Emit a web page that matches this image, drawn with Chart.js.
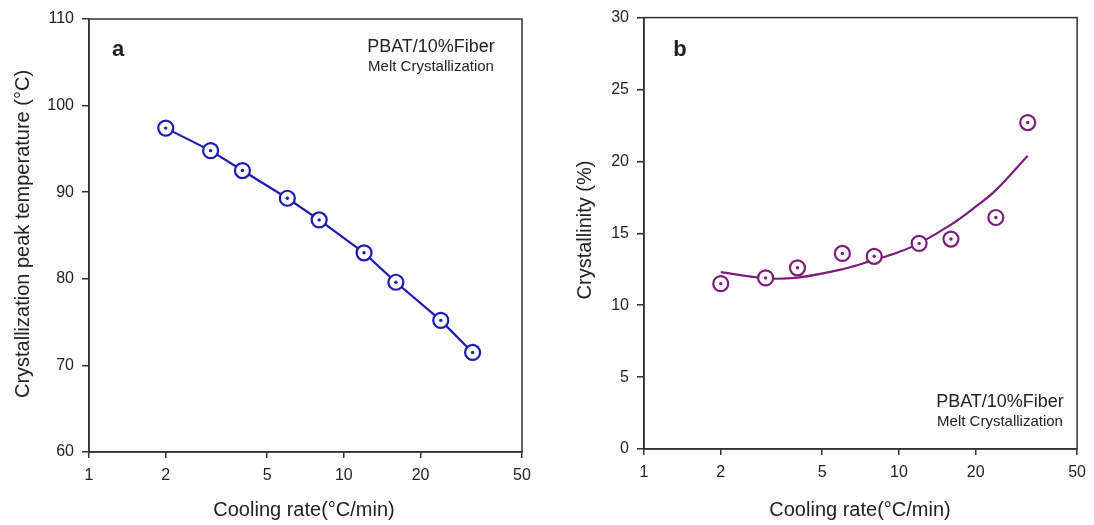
<!DOCTYPE html>
<html>
<head>
<meta charset="utf-8">
<script src="https://cdn.jsdelivr.net/npm/chart.js@4.4.1/dist/chart.umd.min.js"></script>
<style>
  html, body { margin: 0; padding: 0; background: #fff; }
  #wrap { position: relative; width: 1094px; height: 525px; }
  canvas { position: absolute; top: 0; }
</style>
</head>
<body>
<div id="wrap">
  <canvas id="chart-a" width="547" height="525" style="left:0"></canvas>
  <canvas id="chart-b" width="547" height="525" style="left:547px"></canvas>
</div>
<script>
// tick labels
var xTicks = [1, 2, 5, 10, 20, 50];

// panel a: peak temperature vs cooling rate
var rateA = [2, 3, 4, 6, 8, 12, 16, 24, 32];
var peakTemp = [97.4, 94.8, 92.5, 89.3, 86.8, 83.0, 79.6, 75.2, 71.5];

// panel b: crystallinity vs cooling rate, plus fitted curve
var rateB = [2, 3, 4, 6, 8, 12, 16, 24, 32];
var crystallinity = [11.5, 11.9, 12.6, 13.6, 13.4, 14.3, 14.6, 16.1, 22.7];
var fitRate = [2, 3, 4, 6, 8, 10, 12, 16, 20, 24, 32];
var fitCryst = [12.3, 11.87, 11.92, 12.5, 13.15, 13.7, 14.3, 15.6, 16.85, 18.0, 20.4];

var FONT = "'Liberation Sans', Arial, sans-serif";
var TXT = '#222';

function pts(xs, ys) {
    return xs.map(function (x, i) { return { x: x, y: ys[i] }; });
}

var decor = {
    id: 'decor',
    afterDraw: function (chart, args, opts) {
        var ctx = chart.ctx, a = chart.chartArea;
        ctx.save();
        ctx.strokeStyle = '#333';
        ctx.lineWidth = 1.5;
        ctx.strokeRect(a.left, a.top, a.right - a.left, a.bottom - a.top);
        ctx.fillStyle = TXT;
        ctx.textAlign = 'center';
        ctx.textBaseline = 'middle';
        opts.texts.forEach(function (t) {
            ctx.save();
            ctx.font = t.font;
            ctx.translate(t.x, t.y);
            if (t.rot) ctx.rotate(-Math.PI / 2);
            ctx.fillText(t.text, 0, 0);
            ctx.restore();
        });
        ctx.restore();
    }
};

function makeChart(id, datasets, yMin, yMax, yStep, box, texts) {
    var ctx = document.getElementById(id).getContext('2d');
    return new Chart(ctx, {
        type: 'scatter',
        data: { datasets: datasets },
        plugins: [decor],
        options: {
            responsive: false,
            animation: false,
            layout: { padding: { left: 0, top: box.top, right: box.right, bottom: 0 } },
            plugins: {
                legend: { display: false },
                tooltip: { enabled: false },
                decor: { texts: texts }
            },
            scales: {
                x: {
                    type: 'logarithmic',
                    min: 1,
                    max: 50,
                    afterBuildTicks: function (s) {
                        s.ticks = xTicks.map(function (v) { return { value: v }; });
                    },
                    afterFit: function (s) { s.height = box.bottom; },
                    grid: { display: true, drawOnChartArea: false, drawTicks: true, tickLength: 6, color: '#333', lineWidth: 1.5 },
                    border: { display: true, color: '#333', width: 1.5 },
                    ticks: {
                        autoSkip: false,
                        maxRotation: 0,
                        padding: 8,
                        color: TXT,
                        font: { family: FONT, size: 16 },
                        callback: function (v) { return String(v); }
                    }
                },
                y: {
                    min: yMin,
                    max: yMax,
                    afterFit: function (s) { s.width = box.left; },
                    grid: { display: true, drawOnChartArea: false, drawTicks: true, tickLength: 7, color: '#333', lineWidth: 1.5 },
                    border: { display: true, color: '#333', width: 1.5 },
                    ticks: {
                        stepSize: yStep,
                        padding: 8,
                        color: TXT,
                        font: { family: FONT, size: 16 }
                    }
                }
            }
        }
    });
}

var blue = 'rgb(28, 28, 176)';
var purple = 'rgb(122, 30, 122)';

// first dataset is drawn on top
makeChart('chart-a', [
    {
        data: pts(rateA, peakTemp),
        showLine: false,
        pointRadius: 1.7,
        pointBorderWidth: 0,
        pointBackgroundColor: blue
    },
    {
        data: pts(rateA, peakTemp),
        showLine: true,
        borderColor: blue,
        borderWidth: 2.2,
        pointRadius: 7.5,
        pointBorderWidth: 2.2,
        pointBorderColor: blue,
        pointBackgroundColor: '#fff'
    }
], 60, 110, 10, { left: 89, top: 19, right: 25, bottom: 73 }, [
    { text: 'a', x: 118, y: 50, font: 'bold 22px ' + FONT },
    { text: 'PBAT/10%Fiber', x: 431, y: 47, font: '18px ' + FONT },
    { text: 'Melt Crystallization', x: 431, y: 67, font: '15px ' + FONT },
    { text: 'Cooling rate(°C/min)', x: 304, y: 510, font: '20px ' + FONT },
    { text: 'Crystallization peak temperature (°C)', x: 23, y: 234, font: '20px ' + FONT, rot: true }
]);

makeChart('chart-b', [
    {
        data: pts(rateB, crystallinity),
        showLine: false,
        pointRadius: 1.7,
        pointBorderWidth: 0,
        pointBackgroundColor: purple
    },
    {
        data: pts(rateB, crystallinity),
        showLine: false,
        pointRadius: 7.5,
        pointBorderWidth: 2.2,
        pointBorderColor: purple,
        pointBackgroundColor: '#fff'
    },
    {
        data: pts(fitRate, fitCryst),
        showLine: true,
        tension: 0.4,
        borderColor: purple,
        borderWidth: 2.2,
        pointRadius: 0
    }
], 0, 30, 5, { left: 97, top: 14, right: 14, bottom: 76 }, [
    { text: 'b', x: 133, y: 50, font: 'bold 22px ' + FONT },
    { text: 'PBAT/10%Fiber', x: 453, y: 402, font: '18px ' + FONT },
    { text: 'Melt Crystallization', x: 453, y: 422, font: '15px ' + FONT },
    { text: 'Cooling rate(°C/min)', x: 313, y: 510, font: '20px ' + FONT },
    { text: 'Crystallinity (%)', x: 38, y: 230, font: '20px ' + FONT, rot: true }
]);
</script>
</body>
</html>
